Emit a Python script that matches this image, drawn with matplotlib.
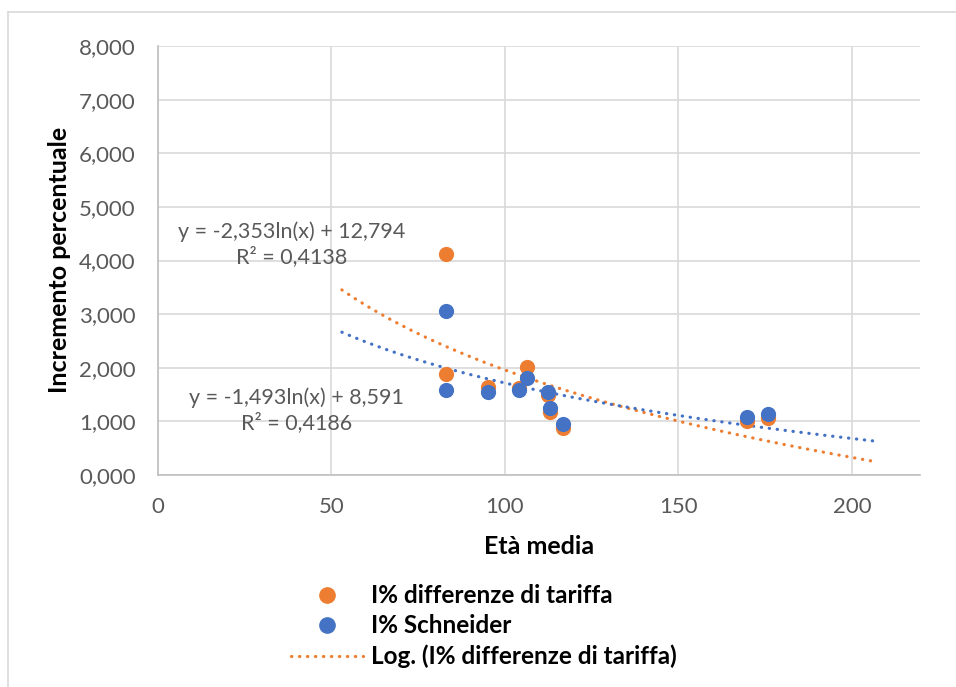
import numpy as np
import matplotlib
matplotlib.use("Agg")
import matplotlib.pyplot as plt
from matplotlib.lines import Line2D
from matplotlib.ticker import FuncFormatter

plt.rcParams["font.family"] = ["Lato", "DejaVu Sans"]

# Data (età media, incremento percentuale)
eta_media = [83.0, 83.0, 95.1, 104.0, 106.3, 112.4, 113.0, 116.7, 169.7, 175.8]
diff_tariffa = [4.13, 1.88, 1.65, 1.62, 2.01, 1.49, 1.17, 0.87, 1.00, 1.06]
schneider = [3.05, 1.58, 1.54, 1.58, 1.80, 1.55, 1.25, 0.95, 1.08, 1.13]

# Logarithmic trendline coefficients (as shown on the chart)
trend_tariffa = (-2.353, 12.794, 0.4138)
trend_schneider = (-1.493, 8.591, 0.4186)
trend_range = (53, 206)

ORANGE = "#ED7D31"
BLUE = "#4472C4"
GRID = "#D9D9D9"
TEXT = "#595959"

W, H = 956, 687
fig = plt.figure(figsize=(W / 100, H / 100), dpi=100)

# chart border (cropped on right and bottom)
fig.add_artist(Line2D([8 / W, 8 / W], [0, 1 - 12 / H], color=GRID, lw=1.2, transform=fig.transFigure))
fig.add_artist(Line2D([8 / W, 1], [1 - 12 / H, 1 - 12 / H], color=GRID, lw=1.2, transform=fig.transFigure))

ax = fig.add_axes([158 / W, 1 - 475 / H, 762 / W, 429 / H])
ax.set_xlim(0, 219.6)
ax.set_ylim(0, 8)
ax.set_xticks([0, 50, 100, 150, 200])
ax.set_yticks(range(0, 9))
ax.yaxis.set_major_formatter(FuncFormatter(lambda v, p: f"{v:.3f}".replace(".", ",")))
ax.grid(True, color=GRID, lw=1.2)
ax.set_axisbelow(True)
for s in ["top", "right"]:
    ax.spines[s].set_visible(False)
for s in ["left", "bottom"]:
    ax.spines[s].set_color("#BFBFBF")
    ax.spines[s].set_linewidth(1.2)
ax.tick_params(length=0, labelsize=16, labelcolor=TEXT)
ax.tick_params(axis="y", pad=16)
ax.tick_params(axis="x", pad=16)

# trendlines
xt = np.linspace(trend_range[0], trend_range[1], 200)
dots = dict(lw=2.3, linestyle=(0, (0.1, 2.4)), dash_capstyle="round")
ax.plot(xt, trend_tariffa[0] * np.log(xt) + trend_tariffa[1], color=ORANGE, zorder=2, **dots)
ax.plot(xt, trend_schneider[0] * np.log(xt) + trend_schneider[1], color=BLUE, zorder=2, **dots)

# points
ax.scatter(eta_media, diff_tariffa, s=120, color=ORANGE, zorder=3, linewidths=0)
ax.scatter(eta_media, schneider, s=120, color=BLUE, zorder=4, linewidths=0)

def fmt(v, d):
    return f"{v:.{d}f}".replace(".", ",")

ax.text(38.6, 4.31, f"y = {fmt(trend_tariffa[0], 3)}ln(x) + {fmt(trend_tariffa[1], 3)}\nR² = {fmt(trend_tariffa[2], 4)}",
        ha="center", va="center", fontsize=15.5, color=TEXT, linespacing=1.25)
ax.text(40.0, 1.21, f"y = {fmt(trend_schneider[0], 3)}ln(x) + {fmt(trend_schneider[1], 3)}\nR² = {fmt(trend_schneider[2], 4)}",
        ha="center", va="center", fontsize=15.5, color=TEXT, linespacing=1.25)

fig.text(539 / W, 1 - 546 / H, "Età media", ha="center", va="center", fontsize=18, fontweight="bold")
fig.text(60 / W, 1 - 260 / H, "Incremento percentuale", ha="center", va="center", rotation=90,
         fontsize=18, fontweight="bold")

handles = [
    Line2D([], [], color=ORANGE, marker="o", markersize=11, linestyle="none"),
    Line2D([], [], color=BLUE, marker="o", markersize=11, linestyle="none"),
    Line2D([], [], color=ORANGE, **dots),
]
labels = ["I% differenze di tariffa", "I% Schneider", "Log. (I% differenze di tariffa)"]
leg = fig.legend(handles, labels, loc="upper left", bbox_to_anchor=(279 / W, 1 - 572 / H),
                 frameon=False, prop={"size": 17.5, "weight": "bold"},
                 handlelength=2.95, handletextpad=0.35, labelspacing=0.3, borderpad=0)

fig.savefig("out.png", dpi=100)
